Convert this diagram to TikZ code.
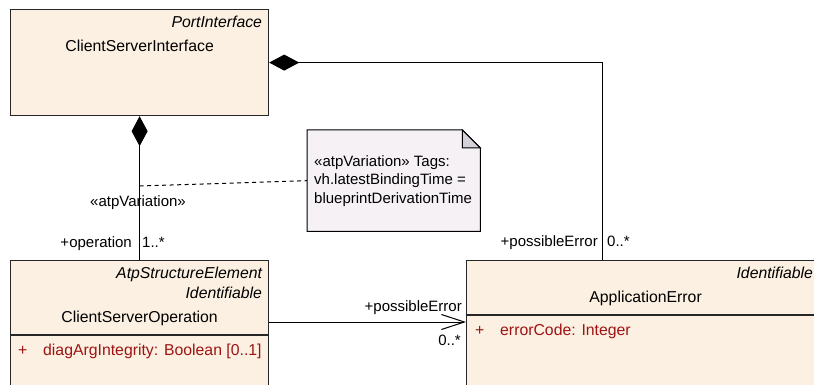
\documentclass[tikz,border=0pt]{standalone}
\usepackage{fontspec}
\setmainfont{Liberation Sans}
\usetikzlibrary{positioning, arrows.meta, calc}
\definecolor{classfill}{RGB}{251,240,225}
\definecolor{notefill}{RGB}{245,241,245}
\definecolor{foldfill}{RGB}{212,210,216}
\definecolor{attrred}{RGB}{158,20,20}
\newcommand{\umlsize}{\fontsize{15}{18.3}\selectfont}
\newcommand{\clssize}{\fontsize{15.8}{18.5}\selectfont}

\begin{document}
\begin{tikzpicture}[x=1pt, y=-1pt,
  classbox/.style={rectangle, draw=black!85, line width=1.2pt, fill=classfill, anchor=north west, inner sep=0pt},
  divider/.style={draw=black!85, line width=1.2pt},
  stereo/.style={font=\clssize\itshape, inner sep=0pt, anchor=base east},
  cname/.style={font=\clssize, inner sep=0pt, anchor=base},
  vis/.style={font=\clssize, text=attrred, inner sep=0pt, anchor=base west},
  lbl/.style={font=\umlsize, inner sep=0pt},
  link/.style={draw=black, line width=1pt},
  compo/.style={link, {Diamond[length=30pt, width=16pt]}-},
  assoc/.style={link, -{Straight Barb[length=23pt, width=15pt, line width=1pt]}}
]
  \useasboundingbox (0,0) rectangle (814,385);
  \clip (0,0) rectangle (814,385);

  % Classes
  \node[classbox, minimum width=258pt, minimum height=106pt] (csi) at (10,9) {};
  \node[classbox, minimum width=258pt, minimum height=140pt] (cso) at (10,260) {};
  \node[classbox, minimum width=358pt, minimum height=140pt] (err) at (466,260) {};
  \draw[divider] ([yshift=-75pt]cso.north west) -- ([yshift=-75pt]cso.north east);
  \draw[divider] ([yshift=-55pt]err.north west) -- ([yshift=-55pt]err.north east);

  % Class texts
  \node[stereo] (csiKind) at ([xshift=-7pt, yshift=-19pt]csi.north east) {PortInterface};
  \node[cname] (csiName) at ([yshift=-43pt]csi.north) {ClientServerInterface};

  \node[stereo] (csoKind) at ([xshift=-7pt, yshift=-18pt]cso.north east) {AtpStructureElement};
  \node[stereo] (csoKind2) at ([xshift=-7pt, yshift=-38pt]cso.north east) {Identifiable};
  \node[cname] (csoName) at ([yshift=-62pt]cso.north) {ClientServerOperation};
  \node[vis] (csoVis) at ([xshift=8pt, yshift=-95pt]cso.north west) {+};
  \node[vis] (csoAttr) at ([xshift=33pt, yshift=-95pt]cso.north west) {diagArgIntegrity: Boolean [0..1]};

  \node[stereo] (errKind) at ([xshift=-12pt, yshift=-18pt]err.north east) {Identifiable};
  \node[cname] (errName) at ([yshift=-42pt]err.north) {ApplicationError};
  \node[vis] (errVis) at ([xshift=9pt, yshift=-75pt]err.north west) {+};
  \node[vis] (errAttr) at ([xshift=34pt, yshift=-75pt]err.north west) {errorCode: Integer};

  % Note
  \node[minimum width=173pt, minimum height=101pt, anchor=north west, inner sep=0pt] (note) at (307,130) {};
  \draw[line width=1pt, fill=notefill] (note.north west) -- ([xshift=-18pt]note.north east)
    -- ([yshift=-18pt]note.north east) -- (note.south east) -- (note.south west) -- cycle;
  \draw[line width=1pt, fill=foldfill] ([xshift=-18pt]note.north east)
    -- ([xshift=-18pt, yshift=-18pt]note.north east) -- ([yshift=-18pt]note.north east) -- cycle;
  \node[lbl, anchor=base west, align=left] (noteText) at ([xshift=7pt, yshift=-73pt]note.north west)
    {«atpVariation» Tags:\\vh.latestBindingTime =\\blueprintDerivationTime};

  % Connectors
  \draw[compo] (csi.south) -- (cso.north);
  \draw[compo] (csi.east) -| ([xshift=136pt]err.north west);
  \draw[assoc] ([yshift=-62pt]cso.north east) -- ([yshift=-62pt]err.north west);
  \coordinate (varpt) at (csi.south |- 0,186);
  \draw[link, dash pattern=on 4pt off 3.5pt] (varpt) -- (note.west);

  % Labels
  \node[lbl, anchor=base] (varLbl) at (138,206) {«atpVariation»};
  \node[lbl, anchor=base east] (opRole) at (132,247) {+operation};
  \node[lbl, anchor=base west] (opMult) at (142,247) {1..*};
  \node[lbl, anchor=base east] (errRoleTop) at (598,246) {+possibleError};
  \node[lbl, anchor=base west] (errMultTop) at (607,246) {0..*};
  \node[lbl, anchor=base east] (errRole) at (462,311) {+possibleError};
  \node[lbl, anchor=base east] (errMult) at (461,345) {0..*};
\end{tikzpicture}
\end{document}
